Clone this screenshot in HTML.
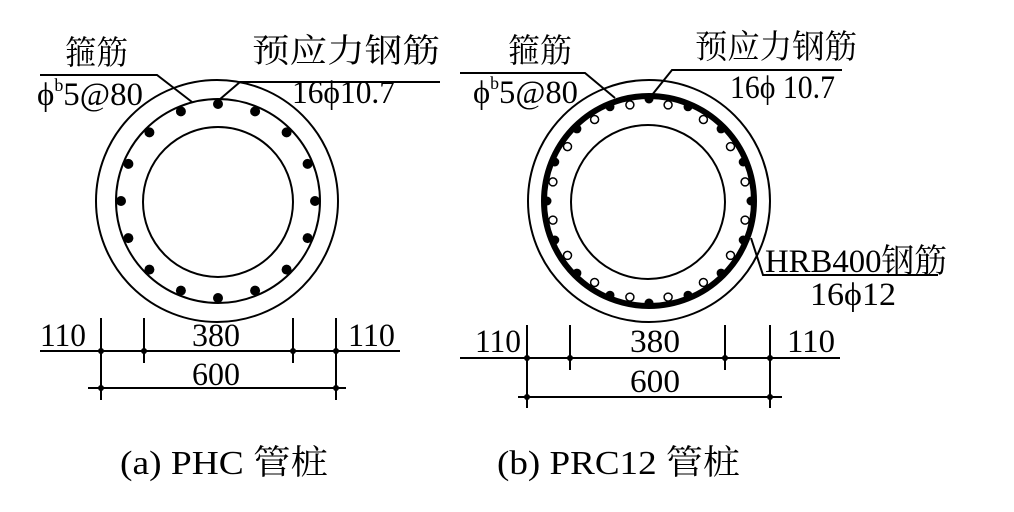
<!DOCTYPE html>
<html><head><meta charset="utf-8"><style>
html,body{margin:0;padding:0;background:#fff;}
svg{display:block;}
text{font-family:"Liberation Serif","Noto Serif CJK SC",serif;fill:#000;}
</style></head><body>
<svg id="s" width="1014" height="512" viewBox="0 0 1014 512" xmlns="http://www.w3.org/2000/svg">
<g fill="none" stroke="#000" stroke-width="2">
<circle cx="217" cy="201" r="121"/>
<circle cx="218" cy="201" r="102"/>
<circle cx="218" cy="202" r="75"/>
<polyline points="40,75 157,75 192,102"/>
<polyline points="219,100 240,82 440,82"/>
<line x1="40" y1="351" x2="400" y2="351"/>
<line x1="88" y1="388" x2="346" y2="388"/>
<line x1="101" y1="318" x2="101" y2="400"/>
<line x1="144" y1="318" x2="144" y2="363"/>
<line x1="293" y1="318" x2="293" y2="363"/>
<line x1="336" y1="318" x2="336" y2="400"/>
<circle cx="649" cy="201" r="121"/>
<circle cx="649" cy="201" r="105" stroke-width="6"/>
<circle cx="648" cy="202" r="77"/>
<polyline points="460,73 585,73 615,98"/>
<polyline points="652,95 672,70 842,70"/>
<polyline points="751,238 763,275 938,275"/>
<line x1="460" y1="358" x2="840" y2="358"/>
<line x1="518" y1="397" x2="782" y2="397"/>
<line x1="527" y1="325" x2="527" y2="408"/>
<line x1="570" y1="325" x2="570" y2="370"/>
<line x1="725" y1="325" x2="725" y2="370"/>
<line x1="770" y1="325" x2="770" y2="408"/>
</g>
<g id="dots"></g>
<g fill="#000">
<circle cx="101" cy="351" r="3"/><circle cx="144" cy="351" r="3"/><circle cx="293" cy="351" r="3"/><circle cx="336" cy="351" r="3"/>
<circle cx="101" cy="388" r="3"/><circle cx="336" cy="388" r="3"/>
<circle cx="527" cy="358" r="3"/><circle cx="570" cy="358" r="3"/><circle cx="725" cy="358" r="3"/><circle cx="770" cy="358" r="3"/>
<circle cx="527" cy="397" r="3"/><circle cx="770" cy="397" r="3"/>
</g>
<g font-size="33">
<text x="65" y="64" textLength="63" lengthAdjust="spacingAndGlyphs">箍筋</text>
<text x="252" y="62" textLength="188" lengthAdjust="spacingAndGlyphs">预应力钢筋</text>
<text x="37" y="105" textLength="106" lengthAdjust="spacingAndGlyphs">ϕ<tspan font-size="18" dy="-14">b</tspan><tspan dy="14">5@80</tspan></text>
<text x="292" y="103" textLength="103" lengthAdjust="spacingAndGlyphs">16ϕ10.7</text>
<text x="40" y="346" textLength="46" lengthAdjust="spacingAndGlyphs">110</text>
<text x="192" y="346" textLength="48" lengthAdjust="spacingAndGlyphs">380</text>
<text x="348" y="346" textLength="47" lengthAdjust="spacingAndGlyphs">110</text>
<text x="192" y="385" textLength="48" lengthAdjust="spacingAndGlyphs">600</text>
<text x="508" y="62" textLength="64" lengthAdjust="spacingAndGlyphs">箍筋</text>
<text x="695" y="58" textLength="162" lengthAdjust="spacingAndGlyphs">预应力钢筋</text>
<text x="473" y="103" textLength="105" lengthAdjust="spacingAndGlyphs">ϕ<tspan font-size="18" dy="-14">b</tspan><tspan dy="14">5@80</tspan></text>
<text x="730" y="98" textLength="105" lengthAdjust="spacingAndGlyphs">16ϕ 10.7</text>
<text x="765" y="272" textLength="182" lengthAdjust="spacingAndGlyphs">HRB400钢筋</text>
<text x="810" y="305" textLength="86" lengthAdjust="spacingAndGlyphs">16ϕ12</text>
<text x="475" y="352" textLength="46" lengthAdjust="spacingAndGlyphs">110</text>
<text x="630" y="352" textLength="50" lengthAdjust="spacingAndGlyphs">380</text>
<text x="787" y="352" textLength="48" lengthAdjust="spacingAndGlyphs">110</text>
<text x="630" y="392" textLength="50" lengthAdjust="spacingAndGlyphs">600</text>
</g>
<g font-size="34">
<text x="120" y="474" textLength="208" lengthAdjust="spacingAndGlyphs">(a) PHC 管桩</text>
<text x="497" y="474" textLength="243" lengthAdjust="spacingAndGlyphs">(b) PRC12 管桩</text>
</g>
</svg>
<script>
var g=document.getElementById('dots'),h="";
for(var i=0;i<16;i++){var a=i*Math.PI/8-Math.PI/2;
h+='<circle cx="'+(218+97*Math.cos(a)).toFixed(1)+'" cy="'+(201+97*Math.sin(a)).toFixed(1)+'" r="5" fill="#000"/>';
h+='<circle cx="'+(649+102*Math.cos(a)).toFixed(1)+'" cy="'+(201+102*Math.sin(a)).toFixed(1)+'" r="4.5" fill="#000"/>';
var b=a+Math.PI/16,cx=649+98*Math.cos(b),cy=201+98*Math.sin(b);
h+='<circle cx="'+cx.toFixed(1)+'" cy="'+cy.toFixed(1)+'" r="4" fill="#fff" stroke="#000" stroke-width="1.5"/>';}
g.innerHTML=h;
</script>
</body></html>
